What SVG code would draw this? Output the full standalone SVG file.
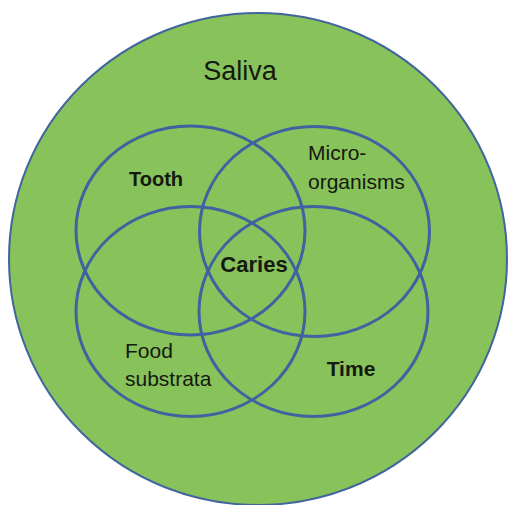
<svg xmlns="http://www.w3.org/2000/svg" width="509" height="505" viewBox="0 0 509 505">
<style>
.set{fill:none;stroke:#3f62a0;stroke-width:3}
.lbl{font-family:"Liberation Sans",Arial,sans-serif;fill:#141a10}
</style>
<rect width="509" height="505" fill="#ffffff"/>
<g id="saliva">
<ellipse cx="258" cy="259" rx="249" ry="246" fill="#88c25a" stroke="#41659c" stroke-width="2"/>
<text class="lbl" x="240" y="80" font-size="27" text-anchor="middle" fill="#1c2a14">Saliva</text>
</g>
<g id="connectors"></g>
<g id="tooth">
<ellipse class="set" cx="190.5" cy="230.5" rx="114.5" ry="104.5"/>
<text class="lbl" x="156" y="186" font-size="20" font-weight="bold" text-anchor="middle">Tooth</text>
</g>
<g id="microorganisms">
<ellipse class="set" cx="314.5" cy="231.5" rx="115" ry="105"/>
<text class="lbl" x="308" y="160" font-size="21">Micro-</text>
<text class="lbl" x="308" y="189" font-size="21">organisms</text>
</g>
<g id="food">
<ellipse class="set" cx="190.5" cy="311.5" rx="114.5" ry="105"/>
<text class="lbl" x="125" y="358" font-size="21" fill="#1f3a12">Food</text>
<text class="lbl" x="125" y="386" font-size="21" fill="#1f3a12">substrata</text>
</g>
<g id="time">
<ellipse class="set" cx="313.5" cy="311.5" rx="114.5" ry="105"/>
<text class="lbl" x="351" y="376" font-size="21" font-weight="bold" text-anchor="middle">Time</text>
</g>
<g id="caries">
<text class="lbl" x="254" y="272" font-size="22" font-weight="bold" text-anchor="middle">Caries</text>
</g>
</svg>
